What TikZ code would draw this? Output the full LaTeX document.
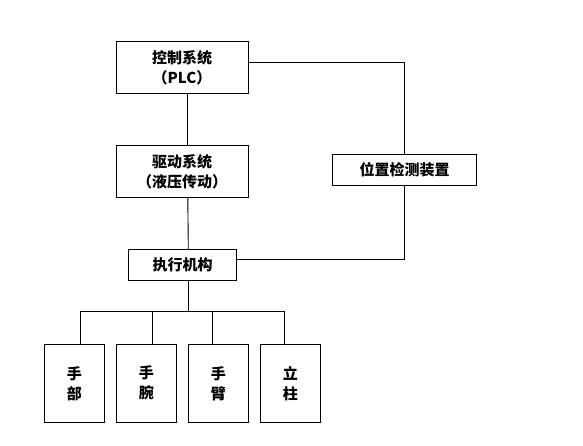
\documentclass[tikz,border=0pt]{standalone}
\usepackage{fontspec}
\setmainfont{Noto Sans CJK SC}
\begin{document}
\begin{tikzpicture}[x=1pt,y=-1pt,
  box/.style={draw=black,line width=0.9pt,rectangle,inner sep=0pt,align=center,font=\fontsize{15pt}{20pt}\selectfont\bfseries},
  conn/.style={draw=black,line width=0.9pt}]
\useasboundingbox (0,0) rectangle (583,445);
\fill[white] (0,0) rectangle (583,445);
\node[box,minimum width=132pt,minimum height=51.5pt] (ctrl) at (182,67.5) {控制系统\\（PLC）};
\node[box,minimum width=132pt,minimum height=52pt] (drive) at (182,171.3) {驱动系统\\（液压传动）};
\node[box,minimum width=144pt,minimum height=31.4pt] (pos) at (404.5,170) {位置检测装置};
\node[box,minimum width=108.4pt,minimum height=30.7pt] (exec) at (182.5,264.7) {执行机构};
\node[box,minimum width=60pt,minimum height=78pt] (b1) at (74.3,383.3) {手\\部};
\node[box,minimum width=60pt,minimum height=78pt] (b2) at (146.3,383.3) {手\\腕};
\node[box,minimum width=60pt,minimum height=78pt] (b3) at (218.3,383.3) {手\\臂};
\node[box,minimum width=60pt,minimum height=78pt] (b4) at (290.3,383.3) {立\\柱};
\coordinate (bus) at (188.3,311.7);
\draw[conn] ([xshift=5.3pt]ctrl.south) -- ([xshift=5.3pt]drive.north);
\draw[conn] ([xshift=5.8pt]drive.south) -- ([xshift=5.8pt]exec.north);
\draw[conn] ([yshift=4.8pt]ctrl.east) -| (pos.north);
\draw[conn] ([yshift=5.6pt]exec.east) -| (pos.south);
\draw[conn] ([xshift=5.8pt]exec.south) -- (bus);
\draw[conn] ([xshift=6.4pt]b1.north) |- (bus);
\draw[conn] ([xshift=6.4pt]b2.north) |- (bus);
\draw[conn] ([xshift=-6pt]b3.north) |- (bus);
\draw[conn] ([xshift=-6pt]b4.north) |- (bus);
\end{tikzpicture}
\end{document}
